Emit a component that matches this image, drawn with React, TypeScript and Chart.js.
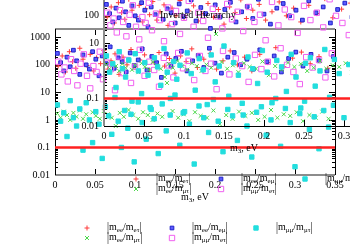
import React, { useEffect, useRef } from "react";
import { Chart, registerables } from "chart.js";
import { drawPoint } from "chart.js/helpers";

Chart.register(...registerables);

const FONT = '"Liberation Serif", "DejaVu Serif", "Times New Roman", serif';

// ---------- axes ----------
const xMin = 0;
const xMax = 0.35;
const yMin = 0.01;
const yMax = 2000;
const xTicks = [0, 0.05, 0.1, 0.15, 0.2, 0.25, 0.3, 0.35];
const yTicksMain = [0.01, 0.1, 1, 10, 100, 1000];
const yTicksInset = [0.01, 0.1, 10, 100, 1000];
const refLevel = 0.1;

// ---------- series labels: |m_a / m_b| ----------
const seriesLabels: [string, string][] = [
  ["ee", "eτ"],
  ["ee", "μτ"],
  ["ee", "eμ"],
  ["μμ", "eτ"],
  ["μμ", "μτ"],
];
const titleText = "Inverted Hierarchy";

// ---------- data: [m3 (eV), ratio] ----------
const meeMet: number[][] = [
  [0.004, 90], [0.009, 210], [0.013, 55], [0.018, 300], [0.022, 130], [0.026, 75], [0.031, 400],
  [0.035, 160], [0.04, 95], [0.044, 240], [0.048, 60], [0.052, 180], [0.057, 110], [0.061, 330],
  [0.066, 70], [0.07, 140], [0.075, 250], [0.08, 45], [0.085, 190], [0.09, 100], [0.095, 360],
  [0.1, 85], [0.106, 150], [0.112, 230], [0.118, 65], [0.124, 120], [0.13, 280], [0.137, 90],
  [0.143, 170], [0.15, 50], [0.157, 210], [0.164, 130], [0.171, 380], [0.178, 80], [0.186, 160],
  [0.194, 260], [0.202, 70], [0.21, 140], [0.219, 320], [0.228, 100], [0.237, 190], [0.246, 60],
  [0.256, 240], [0.266, 120], [0.276, 420], [0.286, 85], [0.297, 175], [0.308, 290], [0.319, 110],
  [0.33, 200], [0.341, 75],
];

const meeMmt: number[][] = [
  [0.003, 1.7], [0.007, 1.2], [0.011, 2.0], [0.015, 1.5], [0.019, 1.0], [0.023, 1.8], [0.027, 1.3],
  [0.031, 2.2], [0.035, 1.1], [0.039, 1.6], [0.043, 0.9], [0.047, 1.9], [0.051, 1.4], [0.056, 1.1],
  [0.061, 2.1], [0.066, 1.6], [0.071, 1.2], [0.076, 0.6], [0.081, 1.8], [0.086, 1.3], [0.092, 2.3],
  [0.098, 1.5], [0.104, 1.1], [0.11, 1.9], [0.116, 1.5], [0.122, 1.0], [0.128, 1.7], [0.134, 1.3],
  [0.14, 22], [0.147, 2.1], [0.154, 1.2], [0.161, 1.6], [0.168, 0.9], [0.175, 1.9], [0.182, 1.4],
  [0.19, 1.2], [0.198, 2.2], [0.206, 0.7], [0.214, 1.5], [0.222, 1.1], [0.23, 2.0], [0.238, 1.4],
  [0.246, 1.8], [0.254, 1.0], [0.262, 1.3], [0.27, 2.3], [0.278, 1.2], [0.286, 1.6], [0.294, 1.4],
  [0.302, 1.9], [0.31, 0.9], [0.318, 1.5], [0.326, 1.2], [0.334, 2.0], [0.342, 1.1],
];

const meeMem: number[][] = [
  [0.003, 260], [0.007, 120], [0.011, 60], [0.015, 190], [0.019, 85], [0.023, 340], [0.027, 140],
  [0.031, 45], [0.035, 230], [0.039, 100], [0.043, 70], [0.047, 300], [0.051, 160], [0.055, 40],
  [0.059, 210], [0.064, 110], [0.069, 450], [0.074, 75], [0.079, 180], [0.084, 130], [0.089, 55],
  [0.094, 270], [0.099, 95], [0.104, 150], [0.109, 380], [0.115, 65], [0.121, 200], [0.127, 120],
  [0.133, 35], [0.139, 250], [0.145, 90], [0.151, 170], [0.158, 310], [0.165, 60], [0.172, 140],
  [0.179, 220], [0.186, 80], [0.193, 400], [0.2, 115], [0.208, 50], [0.216, 190], [0.224, 280],
  [0.232, 100], [0.24, 160], [0.248, 70], [0.256, 350], [0.265, 130], [0.274, 210], [0.283, 55],
  [0.292, 170], [0.301, 290], [0.31, 90], [0.32, 240], [0.33, 140], [0.34, 60], [0.348, 200],
];

const mmmMet: number[][] = [
  [0.004, 130], [0.008, 45], [0.012, 80], [0.016, 25], [0.02, 160], [0.024, 60], [0.028, 18],
  [0.032, 110], [0.036, 240], [0.04, 40], [0.044, 14], [0.048, 90], [0.052, 55], [0.056, 300],
  [0.06, 30], [0.065, 120], [0.07, 70], [0.075, 12], [0.08, 200], [0.085, 50], [0.09, 150],
  [0.095, 22], [0.1, 85], [0.106, 350], [0.112, 40], [0.118, 130], [0.124, 65], [0.13, 16],
  [0.136, 180], [0.142, 95], [0.148, 35], [0.154, 270], [0.16, 75], [0.167, 140], [0.174, 28],
  [0.181, 210], [0.188, 60], [0.195, 110], [0.202, 13], [0.21, 320], [0.218, 45], [0.226, 170],
  [0.234, 90], [0.242, 24], [0.25, 230], [0.258, 70], [0.266, 130], [0.274, 38], [0.282, 400],
  [0.29, 100], [0.298, 55], [0.306, 20], [0.314, 190], [0.322, 80], [0.33, 150], [0.338, 35],
  [0.346, 260],
];

const mmmMmt: number[][] = [
  [0.003, 3.5], [0.007, 0.9], [0.011, 1.8], [0.015, 0.25], [0.019, 5.0], [0.023, 1.2], [0.027, 0.6],
  [0.031, 2.5], [0.035, 0.08], [0.039, 4.2], [0.043, 1.0], [0.047, 0.15], [0.051, 2.0], [0.055, 0.7],
  [0.059, 0.04], [0.063, 3.0], [0.067, 1.4], [0.071, 0.3], [0.075, 6.5], [0.079, 0.9], [0.083, 0.1],
  [0.087, 2.2], [0.091, 0.5], [0.095, 1.6], [0.099, 0.03], [0.104, 4.5], [0.109, 0.8], [0.114, 0.2],
  [0.119, 2.8], [0.124, 1.1], [0.129, 0.06], [0.134, 3.8], [0.139, 0.4], [0.144, 1.5], [0.15, 8.0],
  [0.156, 0.12], [0.162, 2.0], [0.168, 0.7], [0.174, 0.025], [0.18, 3.2], [0.186, 1.2], [0.192, 0.35],
  [0.198, 5.5], [0.204, 0.9], [0.21, 0.07], [0.216, 2.4], [0.222, 1.4], [0.228, 0.18], [0.234, 4.0],
  [0.24, 0.6], [0.246, 0.045], [0.252, 1.9], [0.258, 3.0], [0.264, 0.28], [0.27, 1.0], [0.276, 6.0],
  [0.282, 0.11], [0.288, 2.6], [0.294, 0.8], [0.3, 0.02], [0.306, 1.7], [0.312, 4.8], [0.318, 0.45],
  [0.324, 1.3], [0.33, 0.09], [0.336, 2.2], [0.342, 0.55], [0.348, 3.4],
];

const seriesData = [meeMet, meeMmt, meeMem, mmmMet, mmmMmt];

// ---------- styles ----------
type PStyle = { pointStyle: string; radius: number; fill: string; stroke: string; width: number };
const seriesStyles: PStyle[] = [
  { pointStyle: "cross", radius: 2.5, fill: "rgba(0,0,0,0)", stroke: "#ff3a3a", width: 1 },
  { pointStyle: "crossRot", radius: 2.8, fill: "rgba(0,0,0,0)", stroke: "#48d848", width: 1 },
  { pointStyle: "rect", radius: 2.6, fill: "#5c5cff", stroke: "#2020c8", width: 1 },
  { pointStyle: "rect", radius: 3.8, fill: "rgba(0,0,0,0)", stroke: "#f060f0", width: 1 },
  { pointStyle: "rect", radius: 3.1, fill: "#22dede", stroke: "#22dede", width: 1 },
];
const legendCols = [
  { marker: 87, text: 107 },
  { marker: 172, text: 192 },
  { marker: 256, text: 276 },
];
const legendRows = [228, 238];

type Side = { color: string; width: number };
type Frame = { top: Side; bottom: Side; left: Side; right: Side };

const BLACK: Side = { color: "#000", width: 1 };
const GRAY: Side = { color: "#8c8c8c", width: 2 };

function legendPos(i: number) {
  const col = legendCols[Math.floor(i / 2)];
  const row = legendRows[i % 2];
  return { mx: col.marker, tx: col.text, y: row };
}

function Ratio({ a, b }: { a: string; b: string }) {
  const sub: React.CSSProperties = { fontSize: 7, position: "relative", top: 2, verticalAlign: "baseline" };
  const bar: React.CSSProperties = { display: "inline-block", transform: "scaleY(1.25)" };
  return (
    <span>
      <span style={bar}>|</span>m<span style={sub}>{a}</span>/m<span style={sub}>{b}</span>
      <span style={bar}>|</span>
    </span>
  );
}

function ChartLayer({
  dx,
  dy,
  frame,
  yTickList,
  showTitle,
}: {
  dx: number;
  dy: number;
  frame: Frame;
  yTickList: number[];
  showTitle: boolean;
}) {
  const ref = useRef<HTMLCanvasElement>(null);

  useEffect(() => {
    const canvas = ref.current;
    if (!canvas) return;

    const framePlugin = {
      id: "frameTicks",
      beforeDatasetsDraw(chart: any) {
        const { ctx, chartArea: a, scales } = chart;
        const xs = scales.x;
        const ys = scales.y;
        ctx.save();
        ctx.strokeStyle = "#000";
        ctx.lineWidth = 1;
        ctx.beginPath();
        for (let k = -2; k <= 3; k++) {
          for (let m = 1; m <= 9; m++) {
            const v = m * Math.pow(10, k);
            if (v < yMin || v > yMax) continue;
            const py = Math.round(ys.getPixelForValue(v)) + 0.5;
            const len = m === 1 ? 6 : 3;
            ctx.moveTo(a.left, py);
            ctx.lineTo(a.left + len, py);
            ctx.moveTo(a.right, py);
            ctx.lineTo(a.right - len, py);
          }
        }
        for (const v of xTicks) {
          const px = Math.round(xs.getPixelForValue(v)) + 0.5;
          ctx.moveTo(px, a.bottom);
          ctx.lineTo(px, a.bottom - 6);
          ctx.moveTo(px, a.top);
          ctx.lineTo(px, a.top + 6);
        }
        ctx.stroke();
        const line = (s: Side, x1: number, y1: number, x2: number, y2: number) => {
          ctx.beginPath();
          ctx.strokeStyle = s.color;
          ctx.lineWidth = s.width;
          ctx.moveTo(x1, y1);
          ctx.lineTo(x2, y2);
          ctx.stroke();
        };
        const L = Math.round(a.left) + (frame.left.width === 1 ? 0.5 : 0);
        const R = Math.round(a.right) + (frame.right.width === 1 ? 0.5 : 0);
        const T = Math.round(a.top) + (frame.top.width === 1 ? 0.5 : 0);
        const B = Math.round(a.bottom) + (frame.bottom.width === 1 ? 0.5 : 0);
        line(frame.top, a.left, T, a.right, T);
        line(frame.bottom, a.left, B, a.right, B);
        line(frame.left, L, a.top, L, a.bottom);
        line(frame.right, R, a.top, R, a.bottom);
        ctx.restore();
      },
      afterDraw(chart: any) {
        const ctx = chart.ctx;
        ctx.save();
        seriesStyles.forEach((s, i) => {
          const p = legendPos(i);
          ctx.fillStyle = s.fill;
          ctx.strokeStyle = s.stroke;
          ctx.lineWidth = s.width;
          drawPoint(ctx, { pointStyle: s.pointStyle as any, radius: s.radius, rotation: 0, borderWidth: s.width } as any, p.mx, p.y);
        });
        ctx.restore();
      },
    };

    const pointSets = seriesData.map((arr, i) => {
      const s = seriesStyles[i];
      return {
        label: seriesLabels[i].join("/"),
        data: arr.map(([x, y]) => ({ x, y })),
        pointStyle: s.pointStyle,
        pointRadius: s.radius,
        pointBackgroundColor: s.fill,
        pointBorderColor: s.stroke,
        pointBorderWidth: s.width,
        showLine: false,
        order: 5 - i,
      };
    });

    const refLine = {
      label: "ref",
      data: [
        { x: xMin, y: refLevel },
        { x: xMax, y: refLevel },
      ],
      showLine: true,
      borderColor: "#ff2020",
      borderWidth: 2.5,
      pointRadius: 0,
      order: 0,
    };

    const chart = new Chart(canvas, {
      type: "scatter",
      data: { datasets: [...pointSets, refLine] as any },
      options: {
        animation: false,
        responsive: false,
        maintainAspectRatio: false,
        events: [],
        layout: { padding: { top: 29, right: 15, left: 0, bottom: 0 } },
        plugins: { legend: { display: false }, tooltip: { enabled: false } },
        scales: {
          x: {
            type: "linear",
            min: xMin,
            max: xMax,
            afterBuildTicks: (s: any) => {
              s.ticks = xTicks.map((v) => ({ value: v }));
            },
            afterFit: (s: any) => {
              s.height = 70;
            },
            ticks: {
              callback: (v: any) => String(v),
              font: { family: FONT, size: 10 },
              color: "#000",
              padding: 4,
              maxRotation: 0,
              autoSkip: false,
            },
            grid: { display: false, drawTicks: false },
            border: { display: false },
          },
          y: {
            type: "logarithmic",
            min: yMin,
            max: yMax,
            afterBuildTicks: (s: any) => {
              s.ticks = yTickList.map((v) => ({ value: v }));
            },
            afterFit: (s: any) => {
              s.width = 55;
            },
            ticks: {
              callback: (v: any) => String(v),
              font: { family: FONT, size: 10 },
              color: "#000",
              padding: 5,
              autoSkip: false,
            },
            grid: { display: false, drawTicks: false },
            border: { display: false },
          },
        },
      } as any,
      plugins: [framePlugin as any],
    });

    return () => chart.destroy();
  }, []);

  const txt: React.CSSProperties = {
    position: "absolute",
    fontFamily: FONT,
    fontSize: 10,
    lineHeight: "10px",
    whiteSpace: "nowrap",
    color: "#000",
  };

  return (
    <div style={{ position: "absolute", left: dx, top: dy, width: 350, height: 245 }}>
      <canvas ref={ref} width={350} height={245} style={{ display: "block", width: 350, height: 245 }} />
      {showTitle && <div style={{ ...txt, left: 111, top: 59 }}>{titleText}</div>}
      <div style={{ ...txt, left: 195, top: 192, transform: "translateX(-50%)" }}>
        m<span style={{ fontSize: 7, position: "relative", top: 2 }}>3</span>, eV
      </div>
      {seriesLabels.map(([a, b], i) => {
        const p = legendPos(i);
        return (
          <div key={i} style={{ ...txt, left: p.tx, top: p.y - 6 }}>
            <Ratio a={a} b={b} />
          </div>
        );
      })}
    </div>
  );
}

export default function App() {
  useEffect(() => {
    document.body.style.margin = "0";
  }, []);
  const mainFrame: Frame = { top: GRAY, bottom: GRAY, left: BLACK, right: BLACK };
  const insetFrame: Frame = { top: BLACK, bottom: BLACK, left: GRAY, right: BLACK };
  return (
    <div style={{ position: "relative", width: 350, height: 245, overflow: "hidden", background: "#fff" }}>
      <ChartLayer dx={0} dy={0} frame={mainFrame} yTickList={yTicksMain} showTitle={false} />
      <ChartLayer dx={49} dy={-49} frame={insetFrame} yTickList={yTicksInset} showTitle={true} />
    </div>
  );
}
